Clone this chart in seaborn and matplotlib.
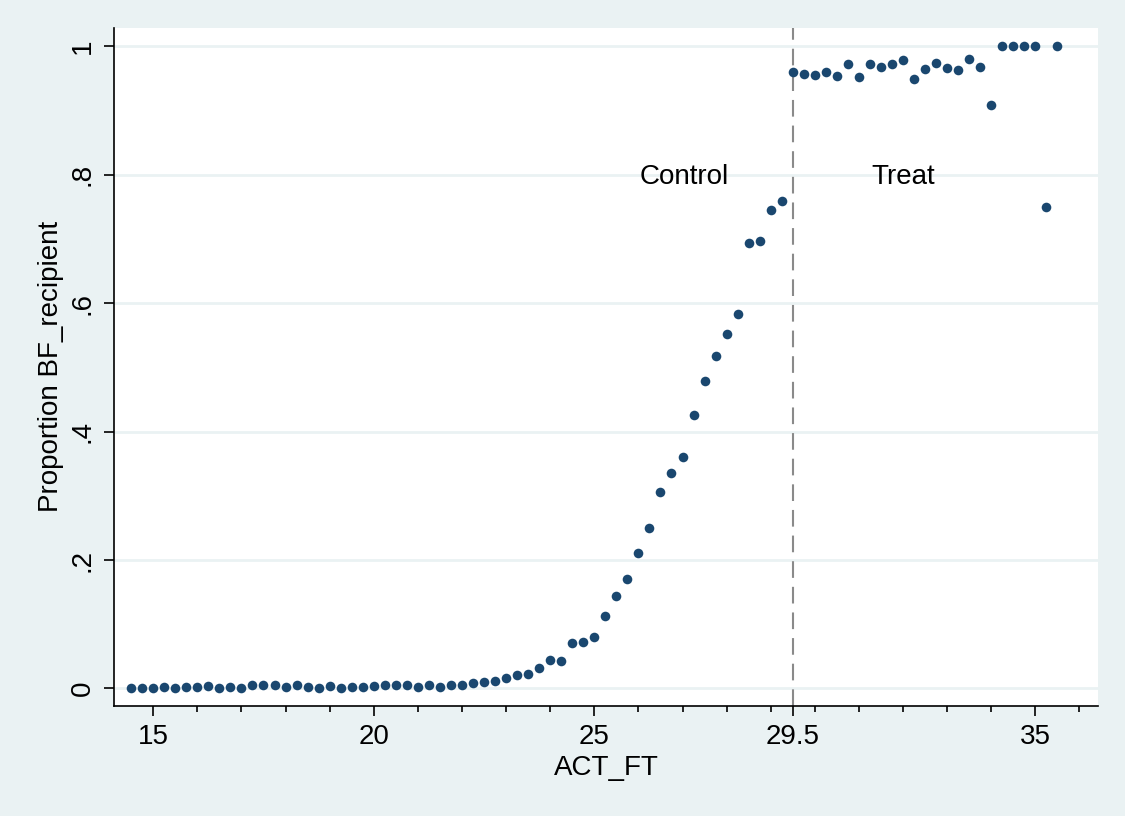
import numpy as np
import pandas as pd
import matplotlib
matplotlib.use("Agg")
import matplotlib.pyplot as plt
import seaborn as sns

# ACT_FT score bins (step 0.25) and the share of BF recipients in each bin
control_x = [14.5, 14.75, 15.0, 15.25, 15.5, 15.75, 16.0, 16.25, 16.5, 16.75,
             17.0, 17.25, 17.5, 17.75, 18.0, 18.25, 18.5, 18.75, 19.0, 19.25,
             19.5, 19.75, 20.0, 20.25, 20.5, 20.75, 21.0, 21.25, 21.5, 21.75,
             22.0, 22.25, 22.5, 22.75, 23.0, 23.25, 23.5, 23.75, 24.0, 24.25,
             24.5, 24.75, 25.0, 25.25, 25.5, 25.75, 26.0, 26.25, 26.5, 26.75,
             27.0, 27.25, 27.5, 27.75, 28.0, 28.25, 28.5, 28.75, 29.0, 29.25]
control_y = [0.001, 0.001, 0.0005, 0.0016, 0.0005, 0.0016, 0.002, 0.004, 0.001, 0.002,
             0.001, 0.0047, 0.0057, 0.006, 0.003, 0.0057, 0.0026, 0.001, 0.004, 0.001,
             0.003, 0.0026, 0.004, 0.005, 0.0057, 0.006, 0.003, 0.0047, 0.0026, 0.005,
             0.005, 0.009, 0.0106, 0.0117, 0.016, 0.0206, 0.0226, 0.0324, 0.0439, 0.0433,
             0.0713, 0.0724, 0.080, 0.1129, 0.1443, 0.1708, 0.211, 0.2495, 0.3066, 0.3352,
             0.360, 0.426, 0.479, 0.518, 0.552, 0.583, 0.6935, 0.6977, 0.746, 0.759]

treat_x = [29.5, 29.75, 30.0, 30.25, 30.5, 30.75, 31.0, 31.25, 31.5, 31.75,
           32.0, 32.25, 32.5, 32.75, 33.0, 33.25, 33.5, 33.75, 34.0, 34.25,
           34.5, 34.75, 35.0, 35.25, 35.5]
treat_y = [0.960, 0.957, 0.955, 0.960, 0.954, 0.972, 0.953, 0.973, 0.968, 0.972,
           0.979, 0.950, 0.965, 0.974, 0.966, 0.964, 0.980, 0.968, 0.909, 1.0,
           1.0, 1.0, 1.0, 0.75, 1.0]

cutoff = 29.5
x_ticks = [15, 20, 25, 29.5, 35]
x_tick_labels = ["15", "20", "25", "29.5", "35"]
x_minor = [16, 17, 18, 19, 21, 22, 23, 24, 26, 27, 28, 29, 30, 31, 32, 33, 34, 36]
y_ticks = [0, 0.2, 0.4, 0.6, 0.8, 1.0]
y_tick_labels = ["0", ".2", ".4", ".6", ".8", "1"]

df = pd.DataFrame({
    "ACT_FT": control_x + treat_x,
    "share": control_y + treat_y,
    "group": ["Control"] * len(control_x) + ["Treat"] * len(treat_x),
})

sns.set_style("white")
plt.rcParams["font.family"] = ["Liberation Sans", "DejaVu Sans"]
plt.rcParams["text.color"] = "black"
plt.rcParams["axes.labelcolor"] = "black"
plt.rcParams["xtick.color"] = "black"
plt.rcParams["ytick.color"] = "black"

bg = "#EAF2F3"
navy = "#1A476F"

fig = plt.figure(figsize=(11.25, 8.16), dpi=100, facecolor=bg)
ax = fig.add_axes([0.1013, 0.1352, 0.8747, 0.8305])
ax.set_facecolor("white")

for y in y_ticks:
    ax.axhline(y, color=bg, lw=2, zorder=0)

sns.scatterplot(data=df, x="ACT_FT", y="share", color=navy, s=48,
                linewidth=0, legend=False, ax=ax, zorder=3)

ax.axvline(cutoff, color="#8A8A8A", lw=1.5, dashes=(8, 4.3), zorder=2)

ax.text(27.03, 0.797, "Control", fontsize=20, ha="center", va="center",
        color="black")
ax.text(32.0, 0.797, "Treat", fontsize=20, ha="center", va="center",
        color="black")

ax.set_xlim(14.11, 36.42)
ax.set_ylim(-0.0268, 1.0288)

ax.set_xticks(x_ticks)
ax.set_xticklabels(x_tick_labels, fontsize=20)
ax.set_xticks(x_minor, minor=True)
ax.set_yticks(y_ticks)
ax.set_yticklabels(y_tick_labels, fontsize=20, rotation=90, va="center")

ax.tick_params(axis="both", which="major", direction="out", length=7,
               width=1.2, color="black", labelcolor="black", pad=6,
               bottom=True, left=True)
ax.tick_params(axis="x", which="minor", direction="out", length=4,
               width=1.2, color="black", bottom=True)

ax.set_xlabel("ACT_FT", fontsize=20, labelpad=4, color="black")
ax.set_ylabel("Proportion BF_recipient", fontsize=20, labelpad=4,
              color="black")

for side in ["top", "right"]:
    ax.spines[side].set_visible(False)
for side in ["left", "bottom"]:
    ax.spines[side].set_color("black")
    ax.spines[side].set_linewidth(1.2)

fig.savefig("out.png", dpi=100, facecolor=bg)
